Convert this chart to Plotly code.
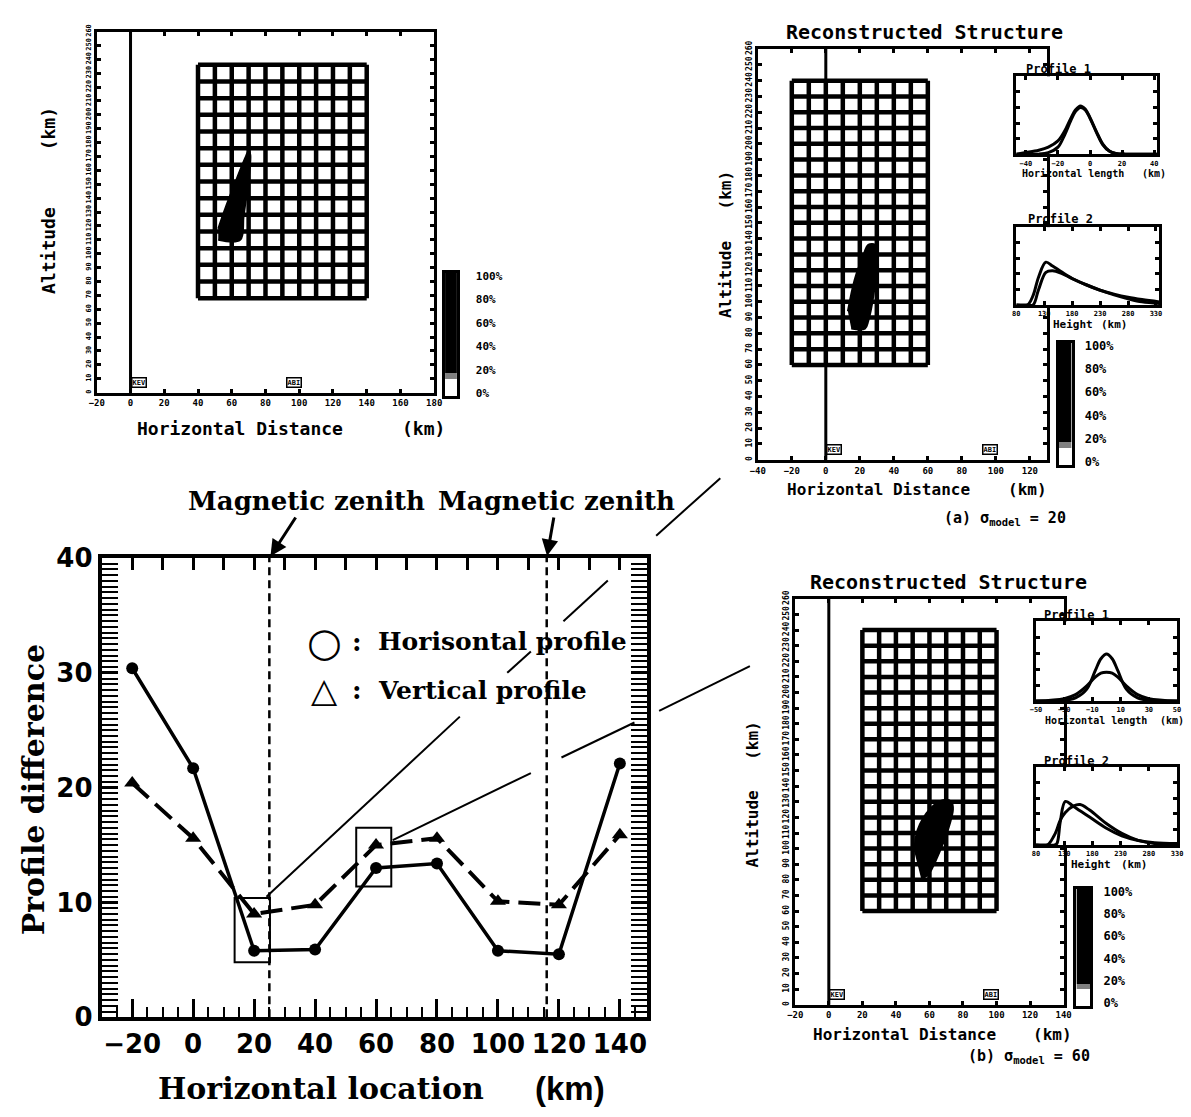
import plotly.graph_objects as go

W, H = 1191, 1117

# ---------------- profile-difference chart ----------------
location_km = [-20, 0, 20, 40, 60, 80, 100, 120, 140]
horizontal_diff = [30.4, 21.7, 5.8, 5.9, 13.0, 13.4, 5.8, 5.5, 22.1]
vertical_diff = [20.4, 15.6, 9.0, 9.8, 15.0, 15.6, 10.1, 9.8, 15.9]
x_ticks = [-20, 0, 20, 40, 60, 80, 100, 120, 140]
y_ticks = [0, 10, 20, 30, 40]
zenith_km = [25, 116]
# boxes around the two cases shown on the right: (x0, x1, y0, y1)
case_boxes = [(13.6, 25.2, 4.8, 10.4), (53.5, 65.0, 11.4, 16.5)]

# ---------------- reconstruction panels ----------------
# grid of the tomography cells: (x0, x1, columns, alt0, alt1, rows)
grid_top = (40, 140, 10, 68, 236, 14)
grid_a = (-20, 60, 8, 60, 240, 18)
grid_b = (20, 100, 8, 60, 240, 18)

# outline of the reconstructed auroral structure (km, km)
blob_top_x = [52, 65, 67, 71, 70, 68, 62, 56, 52]
blob_top_alt = [110, 110, 127, 171, 174, 169, 151, 132, 118]
blob_a_x = [15, 23, 25, 28, 30, 29, 25, 22, 17, 13]
blob_a_alt = [83, 83, 88, 104, 125, 136, 136, 129, 114, 94]
blob_b_x = [55, 59, 66, 71, 74, 73, 68, 60, 53, 51]
blob_b_alt = [81, 83, 98, 112, 125, 130, 131, 125, 112, 98]

stations = ["KEV", "ABI"]
station_km = [0, 92]

# Profile 1 (horizontal cut) and Profile 2 (vertical cut), two curves each
a_p1_x = [-46, -40, -32, -26, -20, -16, -12, -9, -6, -3, 0, 4, 8, 12, 16, 22, 30, 42]
a_p1_y1 = [0.0, 0.02, 0.05, 0.09, 0.17, 0.29, 0.46, 0.57, 0.62, 0.58, 0.47, 0.29, 0.13, 0.04, 0.01, 0.0, 0.0, 0.0]
a_p1_y2 = [0.0, 0.0, 0.0, 0.02, 0.09, 0.24, 0.43, 0.55, 0.60, 0.57, 0.46, 0.28, 0.12, 0.04, 0.01, 0.0, 0.0, 0.0]
a_p2_x = [80, 100, 110, 120, 133, 145, 160, 180, 205, 230, 255, 280, 305, 336]
a_p2_y1 = [0.0, 0.0, 0.12, 0.36, 0.55, 0.50, 0.43, 0.34, 0.26, 0.19, 0.14, 0.10, 0.07, 0.04]
a_p2_y2 = [0.0, 0.0, 0.0, 0.2, 0.42, 0.44, 0.41, 0.34, 0.26, 0.19, 0.13, 0.08, 0.04, 0.02]
b_p1_x = [-50, -30, -22, -14, -8, -4, 0, 4, 8, 14, 22, 30, 50]
b_p1_y1 = [0.0, 0.01, 0.04, 0.15, 0.38, 0.53, 0.59, 0.53, 0.38, 0.15, 0.04, 0.01, 0.0]
b_p1_y2 = [0.0, 0.03, 0.08, 0.19, 0.30, 0.35, 0.36, 0.35, 0.30, 0.19, 0.08, 0.03, 0.0]
b_p2_x = [80, 100, 112, 117, 123, 132, 146, 158, 175, 204, 232, 261, 290, 330]
b_p2_y1 = [0.0, 0.0, 0.0, 0.02, 0.30, 0.56, 0.50, 0.44, 0.36, 0.22, 0.12, 0.06, 0.03, 0.02]
b_p2_y2 = [0.0, 0.0, 0.12, 0.20, 0.32, 0.42, 0.50, 0.52, 0.45, 0.28, 0.15, 0.06, 0.02, 0.01]

cb_levels = [0, 5, 10, 15, 20, 25, 30, 35, 40, 45, 50, 55, 60, 65, 70, 75, 80, 85, 90, 95, 100]
cb_ticks = [0, 20, 40, 60, 80, 100]
cb_text = ["0%", "20%", "40%", "60%", "80%", "100%"]

SERIF = "DejaVu Serif"
SANS = "DejaVu Sans"
MONO = "DejaVu Sans Mono"


def xdom(left, right):
    return [left / W, right / W]


def ydom(top, bottom):
    return [1 - bottom / H, 1 - top / H]


def grid_lines(g):
    x0, x1, nx, y0, y1, ny = g
    xs, ys = [], []
    for i in range(nx + 1):
        xv = x0 + (x1 - x0) * i / nx
        xs += [xv, xv, None]
        ys += [y0, y1, None]
    for j in range(ny + 1):
        yv = y0 + (y1 - y0) * j / ny
        xs += [x0, x1, None]
        ys += [yv, yv, None]
    return xs, ys


fig = go.Figure()

# main chart series
fig.add_trace(go.Scatter(
    x=location_km, y=horizontal_diff, mode="lines+markers",
    line=dict(color="black", width=3.5),
    marker=dict(symbol="circle", size=12, color="black"),
    xaxis="x", yaxis="y", name="Horisontal profile"))
fig.add_trace(go.Scatter(
    x=location_km, y=vertical_diff, mode="lines+markers",
    line=dict(color="black", width=4, dash="22px,9px"),
    marker=dict(symbol="triangle-up", size=14, color="black"),
    xaxis="x", yaxis="y", name="Vertical profile"))
# keeps the top tick axis alive
fig.add_trace(go.Scatter(x=[0], y=[-10], mode="markers", marker=dict(opacity=0),
                         xaxis="x2", yaxis="y", hoverinfo="skip"))

# reconstruction panels: grid + structure
for g, bx, by, ax_id in [(grid_top, blob_top_x, blob_top_alt, 3),
                         (grid_a, blob_a_x, blob_a_alt, 4),
                         (grid_b, blob_b_x, blob_b_alt, 5)]:
    gx, gy = grid_lines(g)
    fig.add_trace(go.Scatter(x=gx, y=gy, mode="lines", line=dict(color="black", width=4.5),
                             xaxis=f"x{ax_id}", yaxis=f"y{ax_id}", hoverinfo="skip"))
    fig.add_trace(go.Scatter(x=bx, y=by, mode="lines", fill="toself", fillcolor="black",
                             line=dict(color="black", width=2, shape="spline"),
                             xaxis=f"x{ax_id}", yaxis=f"y{ax_id}"))

# profile insets
for px_, y1, y2, ax_id in [(a_p1_x, a_p1_y1, a_p1_y2, 6), (a_p2_x, a_p2_y1, a_p2_y2, 7),
                           (b_p1_x, b_p1_y1, b_p1_y2, 8), (b_p2_x, b_p2_y1, b_p2_y2, 9)]:
    for yy in (y1, y2):
        fig.add_trace(go.Scatter(x=px_, y=yy, mode="lines",
                                 line=dict(color="black", width=3, shape="spline"),
                                 xaxis=f"x{ax_id}", yaxis=f"y{ax_id}"))

# colour bars
for ax_id in (10, 11, 12):
    fig.add_trace(go.Heatmap(
        x=[0], y=cb_levels, z=[[v] for v in cb_levels],
        colorscale=[[0, "white"], [0.14, "white"], [0.16, "black"], [1, "black"]],
        showscale=False, xaxis=f"x{ax_id}", yaxis=f"y{ax_id}", hoverinfo="skip"))

layout = dict(
    width=W, height=H, margin=dict(l=0, r=0, t=0, b=0),
    paper_bgcolor="white", plot_bgcolor="white", showlegend=False,
)

# ---- main chart axes ----
layout["xaxis"] = dict(
    domain=xdom(95, 648), range=[-30, 149], anchor="y",
    tickmode="array", tickvals=x_ticks, ticks="inside", ticklen=18, tickwidth=2.5,
    minor=dict(dtick=5, ticks="inside", ticklen=10, tickwidth=2, tickcolor="black"),
    showline=True, linewidth=4, linecolor="black", tickcolor="black",
    tickfont=dict(family=SANS, size=26, color="black", weight="bold"),
    showgrid=False, zeroline=False)
layout["xaxis2"] = dict(
    overlaying="x", side="top", anchor="y", range=[-30, 149],
    tick0=0, dtick=10, ticks="inside", ticklen=12, tickwidth=2.5, tickcolor="black",
    showticklabels=False, showline=True, linewidth=4, linecolor="black",
    showgrid=False, zeroline=False)
layout["yaxis"] = dict(
    domain=ydom(558, 1030), range=[0, 40], anchor="x",
    tickmode="array", tickvals=y_ticks, ticks="inside", ticklen=16, tickwidth=2.5,
    minor=dict(dtick=0.5, ticks="inside", ticklen=14, tickwidth=2, tickcolor="black"),
    mirror="allticks", showline=True, linewidth=4, linecolor="black", tickcolor="black",
    tickfont=dict(family=SANS, size=26, color="black", weight="bold"),
    showgrid=False, zeroline=False)


def panel_axes(n, xpx, ypx, xr, yr, xticks, yticks, xfont=8, yfont=8,
               ylabels=True, lw=3):
    ax = dict(domain=xdom(*xpx), range=xr, anchor=f"y{n}", tickmode="array",
              tickvals=xticks, ticks="inside", ticklen=4, tickwidth=3,
              tickcolor="black", mirror="allticks", showline=True, linewidth=lw,
              linecolor="black", showgrid=False, zeroline=False,
              tickfont=dict(family=MONO, size=xfont, color="black", weight="bold"))
    ay = dict(domain=ydom(*ypx), range=yr, anchor=f"x{n}", tickmode="array",
              tickvals=yticks, ticks="inside", ticklen=4, tickwidth=3,
              tickcolor="black", mirror="allticks", showline=True, linewidth=lw,
              linecolor="black", showgrid=False, zeroline=False,
              showticklabels=ylabels, tickangle=-90,
              tickfont=dict(family=MONO, size=yfont, color="black", weight="bold"))
    layout[f"xaxis{n}"] = ax
    layout[f"yaxis{n}"] = ay


alt_ticks = list(range(0, 261, 10))
panel_axes(3, (90, 432), (17, 388), [-20, 180], [0, 260],
           [-20, 0, 20, 40, 60, 80, 100, 120, 140, 160, 180], alt_ticks, 9, 7)
panel_axes(4, (760, 1053), (35, 457), [-40, 130], [0, 260],
           [-40, -20, 0, 20, 40, 60, 80, 100, 120], alt_ticks, 9, 8)
panel_axes(5, (798, 1070), (600, 1017), [-20, 140], [0, 260],
           [-20, 0, 20, 40, 60, 80, 100, 120, 140], alt_ticks, 9, 8)
panel_axes(6, (1022, 1165), (63, 143), [-46, 42], [0, 1],
           [-40, -20, 0, 20, 40], [0.2, 0.4, 0.6, 0.8], 7, 7, ylabels=False)
panel_axes(7, (1022, 1167), (218, 298), [80, 336], [0, 1],
           [80, 130, 180, 230, 280, 330], [0.2, 0.4, 0.6, 0.8], 7, 7, ylabels=False)
panel_axes(8, (1042, 1185), (623, 705), [-50, 50], [0, 1],
           [-50, -30, -10, 10, 30, 50], [0.2, 0.4, 0.6, 0.8], 7, 7, ylabels=False)
panel_axes(9, (1042, 1185), (773, 853), [80, 330], [0, 1],
           [80, 130, 180, 230, 280, 330], [0.2, 0.4, 0.6, 0.8], 7, 7, ylabels=False)


def cbar_axes(n, xpx, ypx, standoff, size):
    layout[f"xaxis{n}"] = dict(domain=xdom(*xpx), range=[-0.5, 0.5], anchor=f"y{n}",
                               showticklabels=False, ticks="", showline=True,
                               mirror=True, linewidth=2.5, linecolor="black",
                               showgrid=False, zeroline=False)
    layout[f"yaxis{n}"] = dict(domain=ydom(*ypx), range=[-2.5, 102.5], anchor=f"x{n}",
                               side="right", tickmode="array", tickvals=cb_ticks,
                               ticktext=cb_text, ticks="", showline=True, mirror=True,
                               linewidth=2.5, linecolor="black", showgrid=False,
                               zeroline=False, ticklabelstandoff=standoff,
                               tickfont=dict(family=MONO, size=size, color="black",
                                             weight="bold"))


cbar_axes(10, (443, 455), (265, 392), 14, 11)
cbar_axes(11, (1065, 1078), (337, 462), 8, 12)
cbar_axes(12, (1083, 1097), (898, 1018), 8, 12)

fig.update_layout(**layout)

# ---------------- shapes ----------------
shapes = []
for zk in zenith_km:
    shapes.append(dict(type="line", xref="x", yref="y", x0=zk, x1=zk, y0=0, y1=40,
                       line=dict(color="black", width=2.5, dash="8px,5px")))
for x0, x1, y0, y1 in case_boxes:
    shapes.append(dict(type="rect", xref="x", yref="y", x0=x0, x1=x1, y0=y0, y1=y1,
                       line=dict(color="black", width=2)))
# leader lines from the boxed cases to panels (a) and (b), in pixels
leaders = [(262, 906, 458, 721), (506, 676, 530, 654), (563, 623, 608, 581),
           (657, 535, 722, 476),
           (390, 848, 530, 779), (561, 763, 635, 727), (660, 715, 752, 669)]
for x0, y0, x1, y1 in leaders:
    shapes.append(dict(type="line", xref="paper", yref="paper",
                       x0=x0 / W, x1=x1 / W, y0=1 - y0 / H, y1=1 - y1 / H,
                       line=dict(color="black", width=2)))
# station meridian x = 0 in each reconstruction panel
for n in (3, 4, 5):
    shapes.append(dict(type="line", xref=f"x{n}", yref=f"y{n} domain", x0=0, x1=0,
                       y0=0, y1=1, line=dict(color="black", width=3)))
fig.update_layout(shapes=shapes)

# ---------------- text ----------------
ann = []


def text(t, x, y, size, family, xanchor="center", angle=0, weight="bold"):
    ann.append(dict(text=t, x=x / W, y=1 - y / H, xref="paper", yref="paper",
                    xanchor=xanchor, yanchor="middle", showarrow=False, textangle=angle,
                    font=dict(family=family, size=size, color="black", weight=weight)))


# "Magnetic zenith" labels with arrows pointing at the zenith lines
for zk, axo, ayo in [(zenith_km[0], 37, -57), (zenith_km[1], 10, -57)]:
    ann.append(dict(x=zk, y=40, xref="x", yref="y", text="Magnetic zenith",
                    showarrow=True, ax=axo, ay=ayo, arrowhead=2, arrowsize=1.1,
                    arrowwidth=3, arrowcolor="black", standoff=2,
                    font=dict(family=SERIF, size=26, color="black", weight="bold")))
text("Profile difference", 26, 796, 30, SERIF, angle=-90)
text("Horizontal location", 150, 1103, 30, SERIF, xanchor="left")
text("(km)", 570, 1103, 33, "Liberation Sans")
text("○", 321, 644, 40, SANS)
text(":", 354, 644, 26, SERIF)
text("Horisontal profile", 373, 644, 25, SERIF, xanchor="left")
text("△", 321, 694, 34, SANS)
text(":", 354, 694, 26, SERIF)
text("Vertical profile", 373, 694, 25, SERIF, xanchor="left")

# top-left panel
text("Horizontal Distance", 235, 425, 18, MONO)
text("(km)", 421, 425, 18, MONO)
text("Altitude", 41, 242, 18, MONO, angle=-90)
text("(km)", 41, 117, 18, MONO, angle=-90)
# panel (a)
text("Reconstructed Structure", 929, 17, 20, MONO)
text("Horizontal Distance", 882, 488, 16, MONO)
text("(km)", 1033, 488, 16, MONO)
text("Altitude", 727, 272, 16, MONO, angle=-90)
text("(km)", 727, 180, 16, MONO, angle=-90)
text("(a) σ<sub>model</sub> = 20", 1011, 517, 15, MONO)
text("Profile 1", 1030, 55, 12, MONO, xanchor="left")
text("Horizontal length", 1080, 163, 10, MONO)
text("(km)", 1162, 163, 10, MONO)
text("Profile 2", 1032, 210, 12, MONO, xanchor="left")
text("Height", 1080, 318, 11, MONO)
text("(km)", 1122, 318, 11, MONO)
# panel (b)
text("Reconstructed Structure", 953, 583, 20, MONO)
text("Horizontal Distance", 909, 1048, 16, MONO)
text("(km)", 1059, 1048, 16, MONO)
text("Altitude", 755, 836, 16, MONO, angle=-90)
text("(km)", 755, 745, 16, MONO, angle=-90)
text("(b) σ<sub>model</sub> = 60", 1035, 1070, 15, MONO)
text("Profile 1", 1048, 617, 12, MONO, xanchor="left")
text("Horizontal length", 1103, 725, 10, MONO)
text("(km)", 1180, 725, 10, MONO)
text("Profile 2", 1048, 767, 12, MONO, xanchor="left")
text("Height", 1098, 873, 11, MONO)
text("(km)", 1142, 873, 11, MONO)

# station markers on the ground line of each panel
for n in (3, 4, 5):
    for s, sk in zip(stations, station_km):
        ann.append(dict(text=s, x=sk, y=3, xref=f"x{n}", yref=f"y{n}", xanchor="left",
                        yanchor="bottom", showarrow=False, borderwidth=1.5,
                        bordercolor="black", borderpad=0, bgcolor="white",
                        font=dict(family=MONO, size=7, color="black", weight="bold")))

fig.update_layout(annotations=ann)
fig.write_html("out.html")
